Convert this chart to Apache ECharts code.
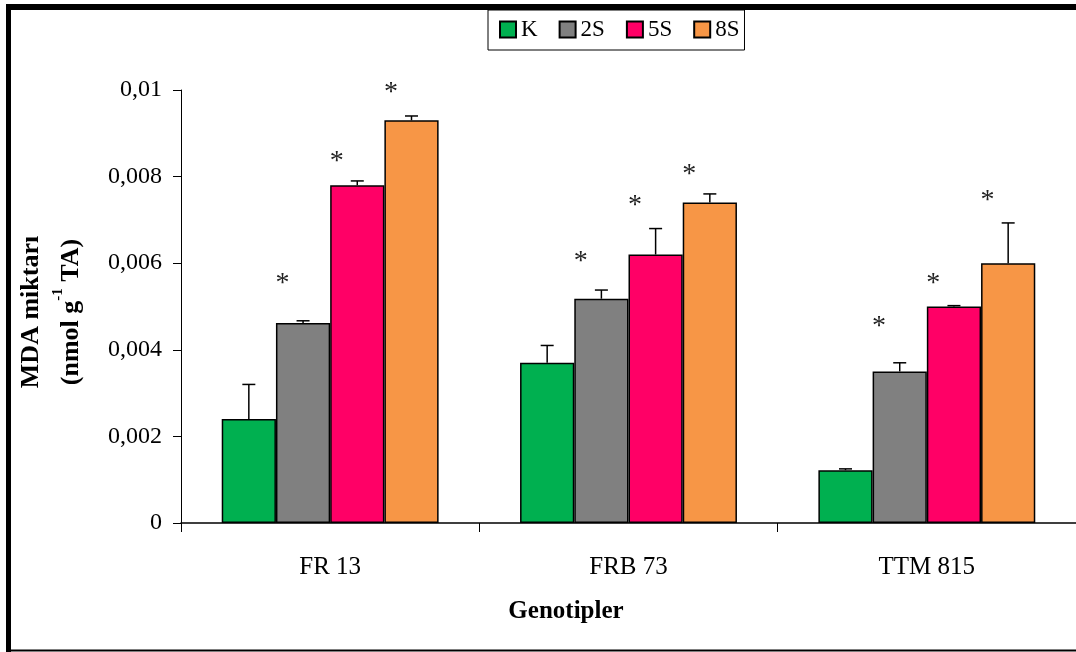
<!DOCTYPE html>
<html>
<head>
<meta charset="utf-8">
<script src="https://cdn.jsdelivr.net/npm/echarts@6/dist/echarts.min.js"></script>
<style>html,body{margin:0;padding:0;background:#fff;}#c{width:1076px;height:652px;}</style>
</head>
<body>
<div id="c"></div>
<script>
// ---- data ----
const categories = ['FR 13', 'FRB 73', 'TTM 815'];
const seriesNames = ['K', '2S', '5S', '8S'];
const valK  = [0.0024, 0.0037, 0.00122];
const val2S = [0.00462, 0.00518, 0.0035];
const val5S = [0.0078, 0.0062, 0.0050];
const val8S = [0.0093, 0.0074, 0.0060];
const errK  = [0.0008, 0.0004, 0.00003];
const err2S = [0.00005, 0.0002, 0.0002];
const err5S = [0.0001, 0.0006, 0.00002];
const err8S = [0.0001, 0.0002, 0.00093];
// significance markers (*) : level (in data units) where each asterisk sits; null = none
const starK  = [null, null, null];
const star2S = [0.0057, 0.0062, 0.0047];
const star5S = [0.0085, 0.0075, 0.0057];
const star8S = [0.0101, 0.0082, 0.0076];
const yTickLabels = ['0', '0,002', '0,004', '0,006', '0,008', '0,01'];

const colors = ['#00B050', '#808080', '#FF0066', '#F79646'];
const values = [valK, val2S, val5S, val8S];
const errs = [errK, err2S, err5S, err8S];
const stars = [starK, star2S, star5S, star8S];

const FONT = "'Liberation Serif', 'Times New Roman', serif";
const CAT_GAP = 0.273;

const errData = [];
for (let s = 0; s < 4; s++) {
  for (let c = 0; c < categories.length; c++) {
    errData.push([c, s, values[s][c], errs[s][c], stars[s][c] == null ? NaN : stars[s][c]]);
  }
}

const chart = echarts.init(document.getElementById('c'), null, {renderer: 'canvas'});

const barSeries = seriesNames.map((n, i) => ({
  name: n,
  type: 'bar',
  data: values[i],
  barGap: '0%',
  barCategoryGap: (CAT_GAP * 100) + '%',
  itemStyle: {color: colors[i], borderColor: '#000', borderWidth: 1.5},
  emphasis: {disabled: true},
  z: 2
}));

function renderErr(params, api) {
  const cat = api.value(0), s = api.value(1), v = api.value(2), e = api.value(3), st = api.value(4);
  const band = api.size([1, 0])[0];
  const groupW = band * (1 - CAT_GAP);
  const barW = groupW / 4;
  const center = api.coord([cat, 0]);
  const left = center[0] - groupW / 2 + barW * s;
  const cx = left + barW / 2;
  const yTop = api.coord([cat, v])[1];
  const yErr = api.coord([cat, v + e])[1];
  const children = [
    {type: 'line', shape: {x1: cx, y1: yTop, x2: cx, y2: yErr}, style: {stroke: '#000', lineWidth: 1.5}},
    {type: 'line', shape: {x1: cx - 6.5, y1: yErr, x2: cx + 6.5, y2: yErr}, style: {stroke: '#000', lineWidth: 1.5}}
  ];
  if (!isNaN(st)) {
    const ys = api.coord([cat, st])[1];
    children.push({
      type: 'text',
      style: {text: '*', x: left + barW * 0.12, y: ys + 7, align: 'center', verticalAlign: 'middle',
              font: '28px ' + FONT, fill: '#222'}
    });
  }
  return {type: 'group', children: children};
}

const option = {
  backgroundColor: '#fff',
  animation: false,
  textStyle: {fontFamily: FONT, color: '#000'},
  grid: {left: 181, top: 90, width: 899, height: 433, containLabel: false},
  legend: {
    data: seriesNames,
    left: 488, top: 10,
    orient: 'horizontal',
    icon: 'rect',
    itemWidth: 16, itemHeight: 16,
    itemGap: 21,
    padding: [8, 5, 9, 11],
    borderColor: '#000', borderWidth: 1,
    textStyle: {fontFamily: FONT, fontSize: 23, color: '#000'},
    selectedMode: false
  },
  xAxis: {
    type: 'category',
    data: categories,
    axisLine: {lineStyle: {color: '#000', width: 1.5}},
    axisTick: {show: true, length: 9, lineStyle: {color: '#000', width: 1}},
    axisLabel: {fontFamily: FONT, fontSize: 25, color: '#000', margin: 32},
    splitLine: {show: false}
  },
  yAxis: {
    type: 'value',
    min: 0, max: 0.01, interval: 0.002,
    axisLine: {show: true, lineStyle: {color: '#000', width: 1}},
    axisTick: {show: true, length: 8, lineStyle: {color: '#000', width: 1}},
    axisLabel: {fontFamily: FONT, fontSize: 24, color: '#000', margin: 19,
      formatter: v => yTickLabels[Math.round(v / 0.002)]},
    splitLine: {show: false}
  },
  series: barSeries.concat([{
    type: 'custom',
    renderItem: renderErr,
    data: errData,
    clip: false,
    z: 3,
    silent: true
  }]),
  graphic: [
    {type: 'rect', shape: {x: 6, y: 4, width: 1070, height: 6}, style: {fill: '#000'}, silent: true},
    {type: 'rect', shape: {x: 6, y: 4, width: 5, height: 648}, style: {fill: '#000'}, silent: true},
    {type: 'rect', shape: {x: 6, y: 649.5, width: 1070, height: 2}, style: {fill: '#000'}, silent: true},
    {type: 'text', x: 566, y: 612, silent: true,
      style: {text: 'Genotipler', align: 'center', verticalAlign: 'middle',
        font: 'bold 25px ' + FONT, fill: '#000'}},
    {type: 'text', x: 51, y: 312, rotation: Math.PI / 2, silent: true,
      style: {
        text: '{b|MDA miktarı}\n{b|(nmol g}{sup|-1}{b| TA)}',
        align: 'center', verticalAlign: 'middle',
        rich: {
          b: {font: 'bold 26px ' + FONT, fill: '#000', lineHeight: 40},
          sup: {font: 'bold 15px ' + FONT, fill: '#000', lineHeight: 31, verticalAlign: 'top'}
        }
      }}
  ]
};
chart.setOption(option);
</script>
</body>
</html>
